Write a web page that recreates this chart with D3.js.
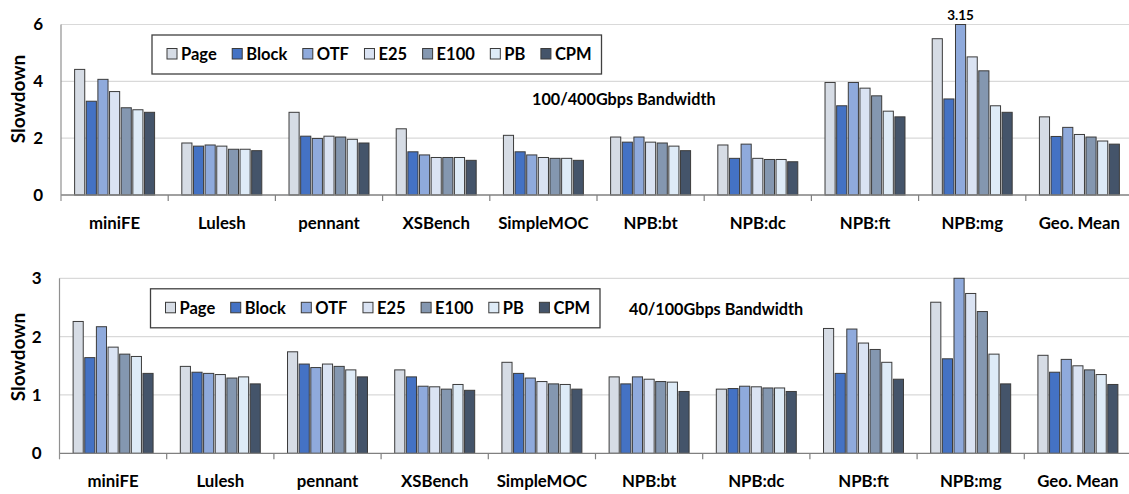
<!DOCTYPE html>
<html><head><meta charset="utf-8">
<script src="https://cdn.jsdelivr.net/npm/d3@7"></script>
<style>body{margin:0;background:#fff}svg{display:block}text{font-family:Lato,"Open Sans",sans-serif}</style>
</head><body>
<svg id="c" width="1129" height="494"></svg>
<script>
const categories = ["miniFE","Lulesh","pennant","XSBench","SimpleMOC","NPB:bt","NPB:dc","NPB:ft","NPB:mg","Geo. Mean"];
const seriesNames = ["Page","Block","OTF","E25","E100","PB","CPM"];
const seriesColors = ["#d6dce5","#4472c4","#8faadc","#dae3f3","#8497b0","#deebf7","#44546a"];

// Top panel: 100/400Gbps Bandwidth
const topPage  = [4.42,1.83,2.91,2.33,2.10,2.04,1.76,3.96,5.50,2.75];
const topBlock = [3.30,1.72,2.07,1.52,1.52,1.86,1.29,3.14,3.38,2.06];
const topOTF   = [4.07,1.76,1.99,1.41,1.41,2.04,1.79,3.96,6.00,2.38];
const topE25   = [3.64,1.72,2.07,1.32,1.32,1.86,1.29,3.76,4.86,2.13];
const topE100  = [3.07,1.61,2.04,1.32,1.29,1.83,1.25,3.49,4.37,2.04];
const topPB    = [3.00,1.61,1.96,1.32,1.29,1.72,1.25,2.95,3.14,1.90];
const topCPM   = [2.91,1.56,1.83,1.22,1.22,1.56,1.17,2.75,2.91,1.79];
const topTicks = [0,2,4,6];

// Bottom panel: 40/100Gbps Bandwidth
const botPage  = [2.26,1.49,1.74,1.43,1.56,1.31,1.10,2.14,2.59,1.68];
const botBlock = [1.64,1.39,1.53,1.31,1.37,1.19,1.11,1.37,1.62,1.39];
const botOTF   = [2.17,1.37,1.47,1.15,1.29,1.31,1.15,2.13,3.15,1.61];
const botE25   = [1.82,1.35,1.53,1.14,1.23,1.27,1.14,1.89,2.74,1.50];
const botE100  = [1.70,1.29,1.49,1.10,1.19,1.23,1.12,1.78,2.43,1.43];
const botPB    = [1.66,1.31,1.43,1.18,1.18,1.22,1.12,1.56,1.70,1.35];
const botCPM   = [1.37,1.19,1.31,1.08,1.10,1.06,1.06,1.27,1.19,1.18];
const botTicks = [0,1,2,3];

const outlierLabel = {category:"NPB:mg", series:"OTF", text:"3.15"};

const svg = d3.select("#c");

function panel(cfg){
  const {left, top, bottom, yMax, ticks, data, title, titleX, titleY, yTitleY, label} = cfg;
  const width = 1072;
  const x0 = d3.scaleBand().domain(categories).range([left, left+width]).paddingInner(0.254).paddingOuter(0.127);
  const x1 = d3.scaleBand().domain(seriesNames).range([0, x0.bandwidth()]).paddingInner(0.13).paddingOuter(0);
  const y = d3.scaleLinear().domain([0, yMax]).range([bottom, top]);
  const color = d3.scaleOrdinal().domain(seriesNames).range(seriesColors);
  const g = svg.append("g");

  g.selectAll("line.grid").data(ticks.filter(t=>t>0)).join("line")
    .attr("x1", left).attr("x2", left+width)
    .attr("y1", d=>y(d)).attr("y2", d=>y(d))
    .attr("stroke", "#d9d9d9").attr("stroke-width", 1.2);

  const rows = categories.map((c,i)=>({c, vals: seriesNames.map((s,j)=>({s, v: data[j][i]}))}));
  g.selectAll("g.cat").data(rows).join("g")
    .attr("transform", d=>`translate(${x0(d.c)},0)`)
    .selectAll("rect").data(d=>d.vals).join("rect")
    .attr("x", d=>x1(d.s)).attr("width", x1.bandwidth())
    .attr("y", d=>y(Math.min(d.v, yMax))).attr("height", d=>y(0)-y(Math.min(d.v, yMax)))
    .attr("fill", d=>color(d.s)).attr("stroke", "#3b3b3b").attr("stroke-width", 1);

  g.append("line").attr("x1", left).attr("x2", left+width).attr("y1", y(0)).attr("y2", y(0))
    .attr("stroke", "#808080").attr("stroke-width", 1.3);
  g.append("line").attr("x1", left).attr("x2", left).attr("y1", y(yMax)).attr("y2", y(0)+6)
    .attr("stroke", "#909090").attr("stroke-width", 1.2);
  g.selectAll("line.btick").data(d3.range(1, categories.length+1)).join("line")
    .attr("x1", i=>left + i*x0.step()).attr("x2", i=>left + i*x0.step())
    .attr("y1", y(0)).attr("y2", y(0)+6).attr("stroke", "#808080").attr("stroke-width", 1.2);

  const ya = g.append("g").attr("transform", `translate(${left},0)`)
    .call(d3.axisLeft(y).tickValues(ticks).tickSize(0).tickPadding(18).tickFormat(d3.format("d")));
  ya.select(".domain").remove();
  ya.selectAll("text").attr("font-family","Lato").attr("font-weight","bold").attr("font-size",17).attr("fill","#000");

  g.selectAll("text.cat").data(categories).join("text")
    .attr("x", d=>x0(d)+x0.bandwidth()/2).attr("y", y(0)+27)
    .attr("text-anchor","middle").attr("dominant-baseline","central")
    .attr("font-weight","bold").attr("font-size",16.8).text(d=>d);

  g.append("text").attr("transform", `translate(17,${yTitleY}) rotate(-90)`)
    .attr("text-anchor","middle").attr("dominant-baseline","central")
    .attr("font-weight","bold").attr("font-size",19).text("Slowdown");

  g.append("text").attr("x", titleX).attr("y", titleY).attr("dominant-baseline","central")
    .attr("font-weight", "bold").attr("font-size",16.2).text(title);

  const lx = left + 91, ly = top + 10.5;
  const lg = g.append("g");
  lg.append("rect").attr("x", lx).attr("y", ly).attr("width", 449.5).attr("height", 39)
    .attr("fill","#fff").attr("stroke","#404040").attr("stroke-width",1.3);
  let cx = lx + 15;
  const cy = ly + 19;
  seriesNames.forEach((s,j)=>{
    lg.append("rect").attr("x", cx).attr("y", cy-5.5).attr("width", 10).attr("height", 10.5)
      .attr("fill", color(s)).attr("stroke","#3b3b3b").attr("stroke-width",1);
    const t = lg.append("text").attr("x", cx+14).attr("y", cy).attr("dominant-baseline","central")
      .attr("font-weight","bold").attr("font-size",16.5).text(s);
    cx += 14 + t.node().getComputedTextLength() + 15.5;
  });

  if (label) {
    g.append("text").attr("x", x0(label.category)+x1(label.series)+x1.bandwidth()/2).attr("y", 15)
      .attr("text-anchor","middle").attr("dominant-baseline","central")
      .attr("font-weight","bold").attr("font-size",13.5).text(label.text);
  }
}

panel({left:61, top:24.5, bottom:195, yMax:6, ticks:topTicks,
  data:[topPage,topBlock,topOTF,topE25,topE100,topPB,topCPM],
  title:"100/400Gbps Bandwidth", titleX:532, titleY:98.5, yTitleY:99, label: outlierLabel});
panel({left:59.5, top:278.3, bottom:453.3, yMax:3, ticks:botTicks,
  data:[botPage,botBlock,botOTF,botE25,botE100,botPB,botCPM],
  title:"40/100Gbps Bandwidth", titleX:629, titleY:308, yTitleY:357});
</script>
</body></html>
